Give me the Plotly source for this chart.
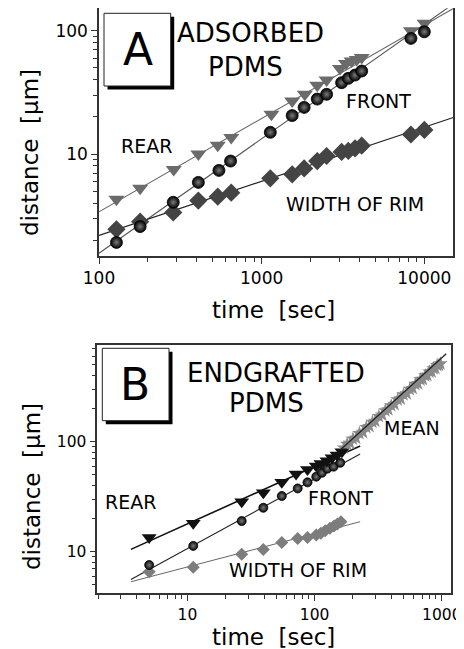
import plotly.graph_objects as go
import numpy as np

# ---------------- Panel A: ADSORBED PDMS ----------------
a_rear_t = [128, 179, 288, 408, 537, 650, 1148, 1540, 1841, 2196, 2507, 3030, 3300, 3570, 3840, 4120, 8270, 10040]
a_rear_d = [4.3, 5.27, 7.5, 10.0, 11.8, 13.6, 21.0, 26.9, 30.5, 36.2, 39.8, 49.5, 54.3, 56.8, 58.5, 60.8, 100, 115]

a_front_t = [128, 179, 286, 408, 546, 644, 1130, 1540, 1824, 2196, 2507, 3100, 3410, 3750, 4120, 8270, 10000]
a_front_d = [1.92, 2.58, 4.06, 5.89, 7.37, 8.77, 15.0, 20.5, 23.9, 27.9, 30.5, 37.9, 41.1, 43.7, 47.1, 86.7, 98]

a_width_t = [128, 179, 286, 408, 537, 650, 1130, 1540, 1824, 2196, 2507, 3100, 3410, 3750, 4120, 8270, 10000]
a_width_d = [2.45, 2.83, 3.36, 4.19, 4.51, 4.86, 6.35, 6.84, 7.65, 8.77, 9.64, 10.4, 10.6, 11.1, 11.7, 14.4, 15.7]

# power-law fits: (t_start, t_end, d at t_start, exponent)
a_fit_rear = (100, 15070, 3.4, 0.757)
a_fit_front = (100, 15070, 1.57, 0.928)
a_fit_width = (100, 15070, 2.19, 0.439)

# ---------------- Panel B: ENDGRAFTED PDMS ----------------
b_rear_t = [5.0, 11.1, 26.7, 39.5, 55.2, 71.5, 87.9, 103, 112, 125, 137, 150, 164]
b_rear_d = [13.5, 18.1, 28.5, 34.4, 42.8, 50.8, 56.0, 60.1, 63.5, 67.2, 71.6, 75.7, 81.1]

b_front_t = [5.0, 11.1, 26.7, 39.5, 55.2, 73.6, 87.9, 103, 114, 126, 141, 159]
b_front_d = [7.57, 11.3, 19.0, 25.1, 32.1, 37.6, 42.7, 48.1, 52.2, 56.9, 59.3, 64.4]

b_width_t = [5.0, 11.1, 26.7, 39.5, 55.2, 73.6, 87.9, 103, 112, 121, 132, 142, 151, 161]
b_width_d = [6.58, 7.21, 9.47, 10.5, 12.1, 13.2, 13.5, 14.2, 14.7, 15.5, 16.3, 17.1, 17.9, 18.7]

b_mean_t = [170, 180, 190, 200, 212, 225, 240, 255, 270, 285, 300, 320, 340, 360, 380, 400, 425, 450,
            475, 500, 530, 560, 590, 620, 650, 680, 710, 740, 770, 800, 830, 860, 890, 920, 950, 975]
b_mean_d = [88, 95, 97, 106, 108, 119, 122, 135, 138, 151, 154, 170, 175, 192, 196, 213, 219, 241,
            246, 268, 274, 300, 306, 333, 338, 366, 370, 398, 402, 431, 434, 462, 466, 495, 498, 512]

b_fit_rear = (3.59, 228, 10.5, 0.521)
b_fit_front = (3.59, 228, 5.6, 0.632)
b_fit_width = (3.59, 228, 5.33, 0.303)
b_fit_mean = (159, 1084, 84, 1.05)

W, H = 464, 649
OFF = 8  # page body margin offset
FONT = "DejaVu Sans"


def px(x):
    return (x - OFF) / W


def py(y):
    return 1 - (y - OFF) / H


def fit_line(fit, n=50):
    t0, t1, d0, b = fit
    t = np.logspace(np.log10(t0), np.log10(t1), n)
    return t, d0 * (t / t0) ** b


fig = go.Figure()


def add_line(fit, xa, ya, color, width):
    t, d = fit_line(fit)
    fig.add_trace(go.Scatter(x=t, y=d, mode="lines", xaxis=xa, yaxis=ya,
                             line=dict(color=color, width=width), showlegend=False,
                             hoverinfo="skip"))


def add_pts(t, d, xa, ya, symbol, size, color, sphere=False):
    m = dict(symbol=symbol, size=size, color=color, line=dict(width=0, color=color))
    if sphere:
        m["gradient"] = dict(type="radial", color="#7a7a7a")
        m["line"] = dict(width=0.8, color="#000")
    fig.add_trace(go.Scatter(x=t, y=d, mode="markers", xaxis=xa, yaxis=ya, marker=m,
                             showlegend=False))


# Panel A
add_line(a_fit_rear, "x", "y", "#6a6a6a", 1.1)
add_line(a_fit_front, "x", "y", "#555555", 1.1)
add_line(a_fit_width, "x", "y", "#222222", 1.2)
add_pts(a_rear_t, a_rear_d, "x", "y", "triangle-down", 14, "#6b6b6b")
add_pts(a_width_t, a_width_d, "x", "y", "diamond", 14, "#444444")
add_pts(a_front_t, a_front_d, "x", "y", "circle", 12, "#000000", sphere=True)

# Panel B
add_line(b_fit_rear, "x2", "y2", "#111111", 1.6)
add_line(b_fit_front, "x2", "y2", "#222222", 1.1)
add_line(b_fit_width, "x2", "y2", "#666666", 1.0)
add_pts(b_mean_t, b_mean_d, "x2", "y2", "star", 11, "#8a8a8a")
add_pts(b_width_t, b_width_d, "x2", "y2", "diamond", 10, "#7d7d7d")
add_pts(b_front_t, b_front_d, "x2", "y2", "circle", 9, "#0a0a0a", sphere=True)
add_pts(b_rear_t, b_rear_d, "x2", "y2", "triangle-down", 13, "#111111")
add_line(b_fit_mean, "x2", "y2", "#222222", 1.3)


def minor_vals(lo, hi):
    vals = []
    for e in range(lo, hi + 1):
        for m in range(2, 10):
            vals.append(m * 10 ** e)
    return vals


axis_common = dict(type="log", showgrid=False, zeroline=False, showline=True, linecolor="#333",
                   linewidth=1.5, mirror=True, ticks="outside", ticklen=6, tickwidth=1.2,
                   automargin=False,
                   tickcolor="#333", tickfont=dict(family=FONT, size=17, color="black"))
b_tickfont = dict(family=FONT, size=15.5, color="black")

a_xticks = [100, 1000, 10000]
a_yticks = [10, 100]
b_xticks = [10, 100, 1000]
b_yticks = [10, 100]

fig.update_layout(
    width=W, height=H, margin=dict(l=0, r=0, t=0, b=0, pad=0),
    paper_bgcolor="white", plot_bgcolor="white", showlegend=False,
    xaxis=dict(axis_common, domain=[px(99), px(453.3)], range=[2, 4.178], anchor="y",
               tickvals=a_xticks, ticktext=[str(v) for v in a_xticks],
               minor=dict(tickvals=minor_vals(2, 4), ticks="outside", ticklen=4, tickcolor="#333")),
    yaxis=dict(axis_common, domain=[py(256), py(8.3)], range=[0.173, 2.182], anchor="x",
               tickvals=a_yticks, ticktext=[str(v) for v in a_yticks],
               minor=dict(tickvals=minor_vals(0, 2), ticks="outside", ticklen=4, tickcolor="#333")),
    xaxis2=dict(axis_common, domain=[px(97.3), px(450.7)], range=[0.291, 3.07], anchor="y2",
                tickvals=b_xticks, ticktext=[str(v) for v in b_xticks], tickfont=b_tickfont,
                minor=dict(tickvals=minor_vals(0, 3), ticks="outside", ticklen=4, tickcolor="#333")),
    yaxis2=dict(axis_common, domain=[py(593.3), py(345)], range=[0.622, 2.879], anchor="x2",
                tickvals=b_yticks, ticktext=[str(v) for v in b_yticks], tickfont=b_tickfont,
                minor=dict(tickvals=minor_vals(0, 2), ticks="outside", ticklen=4, tickcolor="#333")),
)

shapes = []
# label boxes with drop shadow
for (l, t, r, b) in [(104, 13.3, 170.7, 86), (102.3, 348.3, 169, 420.7)]:
    shapes.append(dict(type="rect", xref="paper", yref="paper", x0=px(l + 3.5), x1=px(r + 3.5),
                       y0=py(b + 3.5), y1=py(t + 3.5), fillcolor="black", line=dict(width=0)))
    shapes.append(dict(type="rect", xref="paper", yref="paper", x0=px(l), x1=px(r),
                       y0=py(b), y1=py(t), fillcolor="white", line=dict(color="#222", width=1)))
fig.update_layout(shapes=shapes)


def ann(text, x, y, size, angle=0):
    fig.add_annotation(text=text, xref="paper", yref="paper", x=px(x), y=py(y),
                       xanchor="center", yanchor="middle", showarrow=False, textangle=angle,
                       font=dict(family=FONT, size=size, color="black"))


# Panel A texts
ann("A", 137.5, 49, 44)
ann("ADSORBED", 251, 33, 26)
ann("PDMS", 245, 66.5, 26)
ann("REAR", 146, 145.5, 19)
ann("FRONT", 378.7, 101, 19)
ann("WIDTH OF RIM", 355, 204, 19)
ann("distance  [µm]", 30, 153, 23, angle=-90)
ann("time  [sec]", 273, 310, 23)

# Panel B texts
ann("B", 135.5, 384, 44)
ann("ENDGRAFTED", 276, 372.7, 26)
ann("PDMS", 266.7, 403.3, 26)
ann("REAR", 130.7, 501.7, 19)
ann("FRONT", 340.7, 498.3, 19)
ann("WIDTH OF RIM", 298.3, 570, 19)
ann("MEAN", 412.3, 428.3, 19)
ann("distance  [µm]", 32, 487, 23, angle=-90)
ann("time  [sec]", 273, 637, 23)

fig.write_html("out.html")
